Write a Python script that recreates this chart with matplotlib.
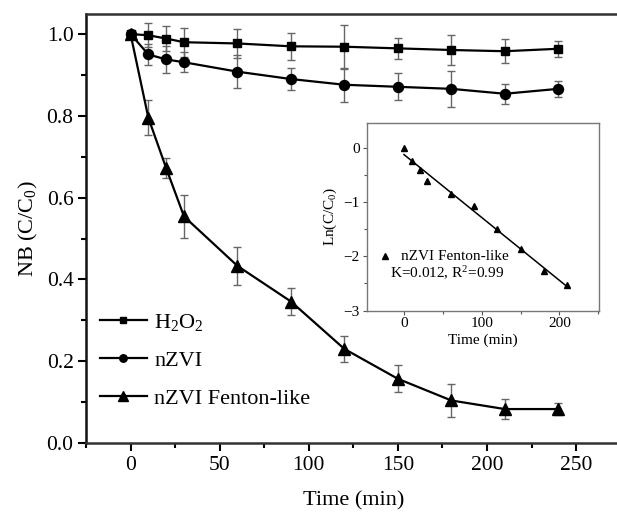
import matplotlib
matplotlib.use("Agg")
import matplotlib.pyplot as plt
import numpy as np
from matplotlib.ticker import MultipleLocator

plt.rcParams['font.family'] = ['Liberation Serif', 'DejaVu Serif']
plt.rcParams['mathtext.fontset'] = 'custom'
plt.rcParams['mathtext.rm'] = 'Liberation Serif'
plt.rcParams['mathtext.it'] = 'Liberation Serif:italic'

# ---- data ----
time = [0, 10, 20, 30, 60, 90, 120, 150, 180, 210, 240]
h2o2 = [1.0, 0.997, 0.989, 0.980, 0.977, 0.970, 0.969, 0.965, 0.961, 0.958, 0.964]
h2o2_err = [0, 0.029, 0.030, 0.036, 0.036, 0.033, 0.054, 0.026, 0.036, 0.029, 0.020]
nzvi = [1.0, 0.950, 0.938, 0.931, 0.908, 0.890, 0.876, 0.871, 0.866, 0.854, 0.866]
nzvi_err = [0, 0.026, 0.033, 0.024, 0.041, 0.027, 0.042, 0.033, 0.044, 0.025, 0.020]
fenton = [1.0, 0.795, 0.672, 0.554, 0.433, 0.346, 0.230, 0.157, 0.104, 0.083, 0.083]
fenton_err = [0, 0.043, 0.025, 0.053, 0.046, 0.034, 0.032, 0.033, 0.041, 0.024, 0.015]

inset_t = [0, 10, 20, 30, 60, 90, 120, 150, 180, 210]
inset_ln = [0, -0.24, -0.40, -0.60, -0.84, -1.06, -1.49, -1.87, -2.27, -2.53]

labels = ['H$_2$O$_2$', 'nZVI', 'nZVI Fenton-like']

W, H = 617, 516
fig = plt.figure(figsize=(W / 100, H / 100), dpi=100)

# main axes (px coords converted)
left, right, top, bottom = 86, 620.6, 13.6, 443
ax = fig.add_axes([left / W, (H - bottom) / H, (right - left) / W, (bottom - top) / H])

ecol = '#666666'
kw = dict(color='black', lw=1.6, ecolor=ecol, elinewidth=1.0, capsize=3.2, capthick=1.0)
c1 = ax.errorbar(time, h2o2, yerr=h2o2_err, marker='s', ms=6.4, label=labels[0], **kw)
c2 = ax.errorbar(time, nzvi, yerr=nzvi_err, marker='o', ms=7.2, label=labels[1], **kw)
c3 = ax.errorbar(time, fenton, yerr=fenton_err, marker='^', ms=9.2, label=labels[2], **kw)

ax.set_xlim(-25, 275)
ax.set_ylim(0, 1.05)
ax.xaxis.set_major_locator(MultipleLocator(50))
ax.xaxis.set_minor_locator(MultipleLocator(25))
ax.yaxis.set_major_locator(MultipleLocator(0.2))
ax.yaxis.set_minor_locator(MultipleLocator(0.1))
ax.yaxis.set_major_formatter(matplotlib.ticker.FormatStrFormatter('%.1f'))
ax.tick_params(which='major', direction='out', length=6, width=1.5, labelsize=15.5, pad=3)
ax.tick_params(which='minor', direction='out', length=3.5, width=1.5)
ax.spines['right'].set_visible(False)
for s in ['left', 'bottom', 'top']:
    ax.spines[s].set_linewidth(1.8)
ax.spines['left'].set_color('#111111')
ax.spines['bottom'].set_color('#333333')
ax.spines['top'].set_color('#333333')
ax.set_xlabel('Time (min)', fontsize=16, labelpad=12)
ax.set_ylabel('NB (C/C$_0$)', fontsize=16, labelpad=5)

leg = ax.legend(handles=[c1[0], c2[0], c3[0]], labels=labels,
                loc='center left', bbox_to_anchor=(0.026, 0.193), frameon=False,
                fontsize=16, handlelength=2.1, handletextpad=0.35, labelspacing=0.78,
                borderpad=0, borderaxespad=0, markerscale=0.75)

# inset axes
il, ir, it, ib = 366.7, 599, 122.7, 310.5
ax2 = fig.add_axes([il / W, (H - ib) / H, (ir - il) / W, (ib - it) / H])
ax2.plot(inset_t, inset_ln, linestyle='none', marker='^', ms=4.2, color='black')
coef = np.polyfit(inset_t, inset_ln, 1)
tfit = np.array([inset_t[0], inset_t[-1]])
ax2.plot(tfit, np.polyval(coef, tfit), color='black', lw=1.1)
ax2.set_xlim(-48, 251)
ax2.set_ylim(-3, 0.47)
ax2.xaxis.set_major_locator(MultipleLocator(100))
ax2.xaxis.set_minor_locator(MultipleLocator(50))
ax2.yaxis.set_major_locator(MultipleLocator(1))
ax2.yaxis.set_minor_locator(MultipleLocator(0.5))
ax2.tick_params(which='major', direction='out', length=3, width=0.8, labelsize=11, pad=2, color='#555555')
ax2.tick_params(which='minor', direction='out', length=2, width=0.8, color='#555555')
for s in ax2.spines.values():
    s.set_color('#777777')
    s.set_linewidth(1.0)
ax2.set_xlabel('Time (min)', fontsize=11, labelpad=2)
ax2.set_ylabel('Ln(C/C$_0$)', fontsize=11, labelpad=3)
ax2.plot([-24], [-2.0], linestyle='none', marker='^', ms=4.2, color='black')
ax2.text(-4, -2.0, 'nZVI Fenton-like', fontsize=11, va='center', ha='left')
ax2.text(55, -2.32, 'K=0.012, R$^2$=0.99', fontsize=11, va='center', ha='center')

fig.savefig('out.png', dpi=100)
